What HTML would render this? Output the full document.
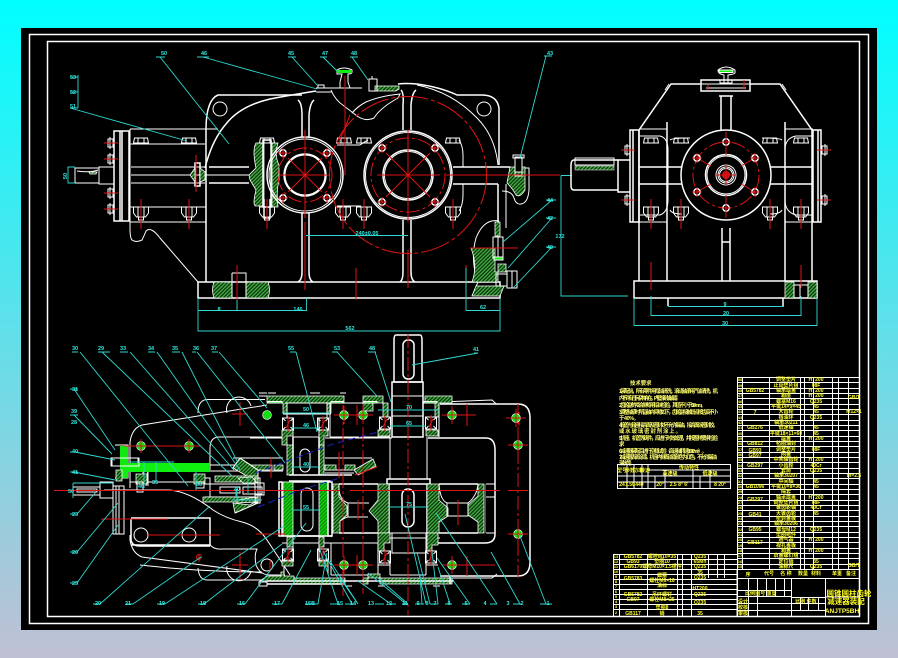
<!DOCTYPE html>
<html><head><meta charset="utf-8"><title>减速器装配图</title>
<style>
html,body{margin:0;padding:0;width:898px;height:658px;overflow:hidden;background:linear-gradient(180deg,#00ffff 0%,#c0c0d4 100%)}
svg{position:absolute;left:0;top:0;display:block}
text{font-family:"Liberation Sans","Noto Sans CJK SC",sans-serif}
.w{stroke:#fff;fill:none;stroke-width:1}
.t{stroke:#fff;fill:none;stroke-width:1.5}
.c{stroke:#2fd8d0;fill:none;stroke-width:.9}
.r{stroke:#e01414;fill:none;stroke-width:1}
.d{stroke:#e01414;fill:none;stroke-width:1;stroke-dasharray:14 3 3 3}
.h{fill:url(#hatch);stroke:#fff;stroke-width:.8}
.b{fill:url(#hatch2);stroke:#fff;stroke-width:.8}
.l text{fill:#2fe8e0;font-size:5.5px;font-weight:bold;text-anchor:middle}
.w2{stroke:#fff;fill:none;stroke-width:1}
.q text{fill:#ffff30;font-size:5px;font-weight:bold;text-anchor:middle}
.n text{fill:#ffff30;font-size:4px;font-weight:bold;text-anchor:middle}
.p text{fill:#ffff70;font-size:5.4px;font-weight:bold}
</style></head><body>
<svg width="898" height="658" viewBox="0 0 898 658" xmlns="http://www.w3.org/2000/svg">
<defs>
<pattern id="hatch" width="2.6" height="2.6" patternUnits="userSpaceOnUse" patternTransform="rotate(45)"><rect width="2.6" height="2.6" fill="#0c3a0c"/><rect width="1.2" height="2.6" fill="#48b048"/></pattern>
<pattern id="hatch2" width="2.6" height="2.6" patternUnits="userSpaceOnUse" patternTransform="rotate(45)"><rect width="2.6" height="2.6" fill="#10d010"/><rect width="1" height="2.6" fill="#0c7a0c"/></pattern>
<g id="nut"><path class="w" d="M-7.500 0h15v6l-3 4h-9l-3-4zM-3 0v10M3 0v10M-2.500 10v3h5v-3"/><path class="r" d="M0 -8v30"/></g>
<g id="nutT"><path class="w" d="M-7.500 5h15l-1-5h-13zM-3 0v5M3 0v5"/></g>
<g id="side"><path class="w" d="M-5 -4h5v8h-5zM-3 -6v12"/><path class="r" d="M-9 0h14"/></g>
<g id="gdot"><circle r="4.400" fill="#10e010" stroke="#fff" stroke-width=".7"/><path class="r" d="M-10 0h20M0 -9v18"/></g>
<g id="hole"><circle r="3.200" class="t" fill="none"/><path class="r" d="M-5 0h10M0 -5v10"/></g>
<g id="brg"><rect x="-5.500" y="-6" width="11" height="12" fill="#000" class="w"/><path d="M-5.500 -6l3 3M5.500 -6l-3 3M-5.500 6l3-3M5.500 6l-3-3" class="w"/><path class="r" stroke-width="2" d="M-2 4L2 -4M0 -8v16"/></g>
</defs>

<rect x="21" y="28" width="856" height="602" fill="#000"/>
<rect x="29.500" y="34.500" width="839" height="589" class="t" fill="none"/>
<rect x="47.500" y="41.500" width="812" height="575" class="t" fill="none"/>

<!-- ========== FRONT VIEW ========== -->
<g class="w" shape-rendering="geometricPrecision">
<path class="t" d="M198 282H500V298H198z"/>
<path d="M198 282L160 238Q151 226 146 231Q144 236 142 240Q136 243 132 240Q130 238 130 228V222H206"/>
<path class="t" d="M206 282V130Q206 100 218 95H302"/>
<path class="t" d="M205 168Q212 140 226 124Q240 106 270 99Q285 96 316 91"/>
<circle cx="220" cy="109" r="7"/>
<path d="M130 129H218M130 144H205M130 207H206M130 222H205M130 129V222"/>
<path class="t" d="M114 131H129V221H114zM120 131V221M122 131V221"/>
<path d="M131 167H205M131 183H205M131 175H260"/>
<path d="M99 167H114V184H99zM75 168H99V183H75z"/>
<path d="M77 171Q90 173 98 170"/>
<path class="h" d="M89 172H97L96 174H90z"/>
<path class="t" d="M195 163H200V186H195z"/>
<path class="h" d="M195 168L190 175L195 182zM200 168L205 172V180L200 182z"/>
<path class="h" d="M256 143H264V206H256Q252 206 256 190L250 180L249 175L256 168Q252 150 256 143z"/>
<path class="h" d="M272 143H278Q274 155 279 165V180Q276 192 278 207H272z"/>
<path class="t" d="M263 140V207H271V140zM264 199V218H270V199"/>
<path class="t" d="M209 167H249M209 183H249"/>
<path class="t" d="M298 100Q302 103 302 115V137M314 100Q310 103 309 115V137M302 213V272Q302 280 298 282M309 213V272Q309 280 313 282"/>
<path class="t" d="M401 90Q404 93 403 105V130M416 90Q412 93 411 105V130M403 220V272Q403 280 400 282M411 220V272Q411 280 415 282"/>
<path d="M337 145H360Q366 141 368 140M337 206H361"/>
<path d="M459 140Q463 146 463 155V167M459 211Q463 205 463 195V184"/>
<path class="t" d="M398 84Q405 83 417 84Q440 87 457 95H482Q497 95 499 108V165"/>
<path d="M417 85Q452 92 477 118Q495 136 498 165"/>
<circle cx="484" cy="109" r="7" class="w"/>
<path d="M331 88H362M331 90Q335 100 344 106Q352 112 357 116Q366 122 374 118Q380 108 398 98L400 94Q380 96 366 102Q358 106 352 113"/>
<path d="M316 88H332M316 92H332"/>
<path class="h" d="M375 86H399V89L396 91H375z"/>
<path d="M337 70Q344 66 352 70V72Q352 74 348 74V82L350 88H340V82L342 74H337z"/>
<rect x="338" y="70" width="14" height="3" fill="#10f010" stroke="none"/>
<path d="M369 79H377V91H369zM372 76V79"/>
<path d="M318 85H324V88H318z"/>
<path class="t" d="M453 167H510M453 184H498M498 184V222"/>
<path d="M506 228V184M510 168H529V190Q528 203 521 204Q516 205 514 198Q512 191 502 191"/>
<path class="h" d="M510 167H525V190Q520 198 516 195Q513 189 507 183Z"/>
<rect x="515" y="157" width="7" height="15" fill="#000"/>
<path d="M515 157H522V176H515zM513 155H524V158H513z"/>
<path d="M499 221Q484 218 476 238Q470 260 478 282L472 296"/>
<path class="h" d="M471 248H495V272H498V282H472Q478 266 471 248z"/>
<path class="h" d="M472 296L476 286H504L500 296z"/>
<path class="h" d="M495 222H500V236H495zM498 264H506V272H498z"/>
<path d="M493 237H503V258H493zM498 237V258"/>
<rect x="494" y="257" width="9" height="3" fill="#10f010"/>
<path d="M496 274H507V286H496zM507 271H517V288H507zM512 271V288"/>
</g>
<path class="h" d="M214 282H232V298H214Q211 290 214 282zM246 282H268Q271 290 268 298H246z"/>
<path class="w" d="M232 273H246V298M232 273V298M226 282H232M246 282H252"/>
<g class="w" shape-rendering="geometricPrecision">
<circle cx="305" cy="175" r="38" fill="#000" class="t"/><circle cx="305" cy="175" r="36" class="w"/>
<circle cx="305" cy="175" r="21" class="t"/><circle cx="305" cy="175" r="20" class="w"/>
<circle cx="408" cy="175" r="44" fill="#000" class="t"/><circle cx="408" cy="175" r="42.500" class="w"/>
<circle cx="408" cy="175" r="25" class="t"/><circle cx="408" cy="175" r="23.500" class="w"/>
</g>
<use href="#nut" x="141" y="207"/><use href="#nut" x="189" y="207"/><use href="#nut" x="267" y="207"/>
<use href="#nut" x="343" y="207"/><use href="#nut" x="364" y="207"/><use href="#nut" x="453" y="207"/>
<use href="#nutT" x="141" y="138"/><use href="#nutT" x="189" y="138"/><use href="#nutT" x="267" y="138"/>
<use href="#nutT" x="344" y="138"/><use href="#nutT" x="364" y="138"/><use href="#nutT" x="453" y="138"/>
<use href="#side" x="113" y="143"/><use href="#side" x="113" y="159"/><use href="#side" x="113" y="193"/><use href="#side" x="113" y="209"/>
<g shape-rendering="geometricPrecision">
<circle cx="408" cy="175" r="78.500" class="r" stroke-dasharray="30 3 4 3"/>
<circle cx="305" cy="175" r="27" class="d"/>
<circle cx="408" cy="175" r="37" class="d"/>
<path class="r" d="M280 175H330M305 150V200M288 158L322 192M288 192L322 158"/>
<path class="r" d="M377 175H440M408 144V206M386 153L430 197M386 197L430 153"/>
<path class="r" d="M305 130V218M408 130V222M305 222V290M408 250V288M356 268V300M466 265V300M237 265V310"/>
<path class="r" d="M446 175H560M510 175H530"/>
<path class="r" d="M196 155V192M345 76V175M350 115L338 145"/>
<path class="r" d="M470 248H518M486 248H516"/>
</g>
<use href="#hole" x="283" y="153"/><use href="#hole" x="327" y="153"/><use href="#hole" x="283" y="198"/><use href="#hole" x="327" y="198"/>
<use href="#hole" x="382" y="148"/><use href="#hole" x="435" y="148"/><use href="#hole" x="382" y="202"/><use href="#hole" x="435" y="202"/>
<path class="c" d="M198 298V331H500V298M198 310.500H306.500V298M237 310.500V300M466 310.500H500M466 310.500V268"/>
<path class="c" d="M306 235.500H408"/>
<path class="c" d="M75 167H68V183H75"/>
<path class="c" d="M561 175.500V296H628M561 175.500H572"/>
<g class="l">
<text x="65" y="178" transform="rotate(-90 65 176)">50</text>
<text x="219" y="311">8</text><text x="298" y="311">146</text><text x="483" y="309">62</text><text x="350" y="330">562</text>
<text x="367" y="235">240±0.05</text><text x="560" y="238">172</text>
</g>
<path class="c" d="M160 57L229 144M203 57L317 89M292 57L318 86M323 57L338 72M352 57L368 80M546 56L520 158M552 200L503 242M552 218L508 268M552 247L513 288M156 57H165M197 57H209M288 57H296M320 57H327M350 57H358M544 56H552M546 200H556M546 218H556M546 247H556M78 108V75M70 108L187 141M70 77H78M70 92H78M70 108H78"/>
<g class="l">
<text x="164" y="55">50</text><text x="204" y="55">46</text><text x="291" y="55">45</text><text x="325" y="55">47</text><text x="354" y="55">48</text><text x="550" y="55">43</text><text x="550" y="202">44</text><text x="550" y="220">42</text><text x="550" y="249">40</text>
<text x="73" y="79">53</text><text x="73" y="94">52</text><text x="73" y="108">51</text>
</g>

<!-- ========== SIDE VIEW ========== -->
<g class="w" shape-rendering="geometricPrecision">
<path class="t" d="M634 281H817V298H634zM668 298V306M783 298V306M668 298H783"/>
<path class="t" d="M639 281V130M812 281V130M667 281V122M785 281V122"/>
<path class="t" d="M639 130L671 84H700M812 130L780 84H750"/>
<path d="M671 84H780M665 90L669 84M786 90L782 84"/>
<path class="t" d="M701 80H750V91H701zM704 91H747"/>
<path d="M704 80H748M706 88H746"/>
<path d="M718 70Q726 64 735 70V73Q735 74 728 75V83H724V75Q718 74 718 70z"/>
<rect x="719" y="70" width="14" height="2.500" fill="#10f010"/>
<path d="M720 83H732V80H720z"/>
<path class="t" d="M721 96V131M731 96V131M719 96H733M722 228V281M730 228V281M722 242H730"/>
<path d="M639 129H667L667 125M785 129H813M639 222H667M785 222H813"/>
<path class="t" d="M630 130H639V222H630zM633 130V222"/>
<path class="t" d="M813 130H821V222H813zM818 130V222"/>
<path d="M640 136H660Q668 138 668 150V200Q668 212 660 215H640M812 136H796Q785 138 785 150V200Q785 212 796 215H812"/>
<path d="M670 140Q672 138 690 138M782 140Q780 138 762 138M670 210Q672 214 682 214M782 210Q780 214 770 214"/>
<path class="t" d="M639 167H682M639 184H682M770 167H812M770 184H812"/>
<path class="t" d="M630 160H618V192H630"/>
<path class="t" d="M618 160H574Q571 160 571 165V186Q571 190 574 190H618"/>
<path d="M575 158H614V165H575zM618 160V192"/>
</g>
<rect x="575" y="166" width="39" height="4" fill="url(#hatch)" stroke="#fff" stroke-width=".5"/>
<g shape-rendering="geometricPrecision">
<circle cx="726" cy="175" r="45" fill="#000" class="t" stroke-width="2"/>
<circle cx="726" cy="175" r="20.500" class="t"/><circle cx="726" cy="175" r="19" class="w"/>
<circle cx="726" cy="175" r="10" class="w"/><circle cx="726" cy="175" r="8" class="w"/><circle cx="726" cy="175" r="6.500" class="w"/>
<circle cx="726" cy="175" r="33" class="d"/>
<circle cx="726" cy="175" r="3.500" fill="#c01010" stroke="#e01414"/>
<path class="r" d="M716 175H736M726 165V185M726 132V155M726 195V218M697 158L711 166M755 158L741 166M697 192L711 184M755 192L741 184"/>
</g>
<use href="#hole" x="726" y="142"/><use href="#hole" x="726" y="208"/><use href="#hole" x="697" y="158"/><use href="#hole" x="755" y="158"/><use href="#hole" x="697" y="192"/><use href="#hole" x="755" y="192"/>
<use href="#nut" x="651" y="207"/><use href="#nut" x="681" y="207"/><use href="#nut" x="770" y="207"/><use href="#nut" x="801" y="207"/>
<use href="#nutT" x="651" y="138"/><use href="#nutT" x="681" y="138"/><use href="#nutT" x="770" y="138"/><use href="#nutT" x="801" y="138"/>
<use href="#side" x="630" y="150"/><use href="#side" x="630" y="200"/>
<g transform="matrix(-1 0 0 1 822 0)"><use href="#side" x="0" y="150"/><use href="#side" x="0" y="200"/></g>
<path class="h" d="M785 282H794V298H785zM808 282H817V298H808z"/>
<path class="w" d="M794 285H808V298M794 285V298M800 285V298"/>
<path class="r" d="M651 262V290M801 265V288M708 85V90M744 80V90"/>
<path class="c" d="M668 306.500H784M651 296V315.500H801V296M634 298V325.500H817V298"/>
<g class="l"><text x="725" y="306">9</text><text x="726" y="315">20</text><text x="725" y="325">30</text></g>

<!-- ========== SECTION VIEW ========== -->
<g class="w" shape-rendering="geometricPrecision">
<!-- outer body -->
<path d="M130 488V442Q132 428 142 425L267 405"/>
<path d="M198 413Q198 400 207 399.500H265M227 413A12 12 0 0 1 251 406"/>
<path d="M130 535V540Q132 553 142 557L262 573"/>
<path d="M198 568Q199 580 207 580H267M227 566A12 12 0 0 0 251 571"/>
<path class="t" d="M440 404H518Q530 404 530 418V562Q530 576 518 576H440"/>
<path d="M440 402L492 400Q496 404 497 404M440 578H492L497 574"/>
<path d="M210 448Q210 438 218 437H287M210 448V470"/>
<path class="t" d="M428 438H486Q495 438 495 450V534Q495 543 485 543H428"/>
<path d="M104 490H170Q190 492 213 510Q225 518 242 522Q258 526 267 540Q275 552 290 575"/>
<path class="t" d="M131 518H210V545H131M131 519V540Q132 546 140 546H210"/>
<path d="M210 545Q215 550 222 549H257Q254 555 256 565Q260 575 270 575H285"/>
<circle cx="141" cy="535" r="7"/><circle cx="189" cy="535" r="7"/>
<circle cx="267" cy="565" r="6"/>
<path d="M140 565Q200 572 262 572"/>
<!-- input end -->
<path d="M113 486H124V534H113zM116 486V534M119 486V534"/>
<path d="M100 482H113V498H100zM73 487H100V495H73zM77 489H97V492H77z"/>
<path d="M130 470H148V486M148 470L146 486M130 482H205M143 490V470M203 478H210V501H203"/>
<path d="M205 484H255M205 497H255M220 487H240V493H220zM243 487H262V494H243z"/>
<path d="M115 445H128V478H115"/>
<path d="M111 458H138V466H111z"/>
<!-- pinion stub lines -->
<path d="M210 465H250M233 458H283M210 471H283"/>
<path class="h" d="M250 465H272V470H250zM274 465H283V470H274z"/>
<!-- intermediate shaft: top flange -->
<path class="h" d="M267 396H344V403H331V413H327V403H287V413H283V403H267Z"/>
<rect x="268" y="401.500" width="14" height="1.500" fill="#10f010"/><rect x="331" y="401.500" width="12" height="1.500" fill="#10f010"/>
<path d="M285 403H330M287 403V418M327 403V418M283 414H331"/>
<path d="M259 393H267M268 393H276M310 393H320M340 393H346M259 396H267"/>
<path d="M293 418V445M319 418V445M293 437H319M250 438H287M325 438H392"/>
<path class="h" d="M282 430H293V436H287V445H282zM319 430H328V436H324V445H319z"/>
<path class="h" d="M287 445H293V475H287zM319 445H324V475H319z"/>
<rect x="300" y="449" width="10" height="23" rx="5"/>
<path class="t" d="M289 475H352M289 481H331M293 437V475M319 437V475"/>
<!-- intermediate gear -->
<rect x="283" y="482" width="10" height="54" class="b"/>
<rect x="319" y="482" width="9" height="54" class="b"/>
<path class="t" d="M279 482H282V536H279zM328 482H332V536H328zM293 482H319M293 536H319"/>
<rect x="301" y="488" width="12" height="43" rx="6"/>
<path class="t" d="M282 536H332"/>
<path d="M293 536V560M319 536V560M282 543H331"/>
<path class="h" d="M287 537H293V547H287zM319 537H324V547H319z"/>
<path class="h" d="M282 560H293V566H282zM319 560H328V566H319z"/>
<path d="M284 566V575H270M328 566V575"/>
<!-- gear stub right of intermediate -->
<path d="M325 458H372M325 470H352M325 473H354"/>
<path class="h" d="M325 465H336V470H325zM345 465H355V470H345zM354 470L373 459L376 466L358 475z"/>
<path stroke="#e01414" fill="none" d="M355 475L377 467"/>
<!-- output shaft -->
<path class="t" d="M396 335Q394 335 394 340V382H422V340Q422 335 420 335z"/>
<rect x="403" y="340" width="11" height="39" rx="5" class="t"/>
<path class="t" d="M392 382H423V437H392z"/>
<path d="M392 396H423M392 416H423"/>
<path class="h" d="M363 396H383V403H388V417H383V403H373V411H363zM425 396H452V403H439V417H435V403H425z"/>
<rect x="364" y="401.500" width="13" height="1.500" fill="#10f010"/><rect x="424" y="401.500" width="13" height="1.500" fill="#10f010"/>
<path d="M330 403H363M439 404V437M330 403V437"/>
<path class="h" d="M378 430H390V436H378zM426 430H438V436H426z"/>
<path d="M390 437V479M427 437V479M330 437H390"/>
<path class="t" d="M387 479H430V484H387zM389 484V533M427 484V533"/>
<rect x="402" y="489" width="12" height="38" rx="6" class="t"/>
<path class="h" d="M378 484H389V533H378V521L369 511L378 500z"/>
<path class="h" d="M333 484H339V497L347 506V515L340 521V533H333z"/>
<path class="h" d="M427 484H439V500L448 508V516L439 522V533H427z"/>
<path class="h" d="M478 484H484V533H478V522L468 515V505L478 496z"/>
<path class="t" d="M339 484H378M339 533H378M439 484H478M439 533H478"/>
<path d="M339 484Q338 500 348 503H369M348 503V517H368M340 521Q346 517 348 517"/>
<path d="M447 503H468V516H447zM439 484Q440 500 447 503M478 484Q477 496 468 503"/>
<path class="r" stroke-width="1.500" d="M485.500 484V533"/>
<path d="M486 484H495M486 497H495M486 533H495"/>
<path d="M392 533V553H426V533M389 533H427M385 538H430M378 538H392M426 538H440"/>
<path d="M331 543H378V575M331 543V575M331 575H378"/>
<path class="h" d="M378 533H390V543H384V551H378zM427 533H438V545H432V551H427z"/>
<path d="M378 565H390M426 565H438M390 553V575M426 553V575M390 575H426"/>
<path class="h" d="M368 574H380V578H363V584H368zM380 578H452V584H380z"/>
<path class="h" d="M260 581H294V576H284V572H281V576H267zM294 578H345V584H294z"/>
<path class="t" d="M267 581H345M267 584H345M330 581H454M450 576V584"/>
<path d="M259 582H267V586H259zM324 584H329M280 584H284M345 586H352M378 586H385M433 586H440"/>
<!-- bevel gear -->
<path class="h" d="M233 468L240 458L258 470V478L250 478zM233 503L250 505L258 500V503L235 513z"/>
<path class="h" d="M215 476H258V482H215zM203 497H258V502H203z"/>
<path class="h" d="M238 478L252 477L257 483H243zM237 500L256 497V502L237 503z"/>
<path d="M255 478V503H260V478zM255 483H264V495H255M240 458L258 470V503L235 513"/>
<path d="M232 469L240 458"/>
</g>
<g shape-rendering="geometricPrecision">
<path d="M120 463H210V472H128V478H122Z" fill="#10f010"/>
<rect x="120" y="446" width="8" height="24" fill="#10e810"/>
<path class="h" d="M116 470H122V481H116z"/>
<path class="h" d="M136 474H147V484H136zM194 474H205V484H194z"/>
<path class="w" d="M137 482H143V492H137zM196 482H204V488H196z"/>
<rect x="112" y="458" width="27" height="8" fill="none" stroke="#fff"/>
<circle cx="141" cy="446" r="4.400" fill="#10e010" stroke="#fff" stroke-width=".6"/>
<circle cx="189" cy="446" r="4.400" fill="#10e010" stroke="#fff" stroke-width=".6"/>
<path class="r" d="M124 446H200M141 439V453M189 439V453"/>
<path class="r" d="M54 490.500H300M280 490.500H340M350 490.500H500"/>
<path class="r" d="M101 519H168M148 535H220"/>
<path class="d" d="M408 334V615"/>
<path class="d" d="M343 405V596"/>
<path class="d" d="M363 404V594"/>
<path class="d" d="M518 404V578"/>
<path class="r" d="M513 418H523M519 412V426M350 415H364M357 405V425M350 565H364M357 555V575"/>
<path class="r" d="M240 402V426M240 552V580M232 565H248M232 414H248M467 404V426M452 415H476M455 565H495M467 556V576M256 534H285M270 560V572"/>
<path class="r" d="M199 554V562M339 452V478M271 458V478"/>
<path class="r" d="M358 500V520M458 500V525"/>
<path d="M255 473L333 444L378 432" stroke="#2020c0" fill="none" stroke-dasharray="7 4"/>
<path d="M258 507L300 490L340 478" stroke="#2020c0" fill="none" stroke-dasharray="7 4"/>
<circle cx="199" cy="557" r="2.500" class="r"/>
<circle cx="267" cy="415" r="4.400" fill="#10e010" stroke="#fff" stroke-width=".6"/>
</g>
<use href="#gdot" x="344" y="415"/><use href="#gdot" x="363" y="415"/><use href="#gdot" x="452" y="415"/>
<use href="#gdot" x="344" y="565"/><use href="#gdot" x="363" y="565"/><use href="#gdot" x="452" y="565"/>
<use href="#gdot" x="518" y="445"/><use href="#gdot" x="518" y="534"/><use href="#gdot" x="516" y="418"/>
<path class="r" d="M508 490.500H528"/>
<use href="#brg" x="288" y="424"/><use href="#brg" x="323" y="424"/><use href="#brg" x="385" y="423"/><use href="#brg" x="431" y="423"/>
<use href="#brg" x="288" y="555"/><use href="#brg" x="323" y="555"/><use href="#brg" x="385" y="557"/><use href="#brg" x="431" y="557"/>
<path class="c" d="M282 413H330M292 428H319M292 467H319M292 510H319M232 500H262M378 410H439M390 426H426M389 507H427"/>
<path class="c" d="M144 462V488M156 462V482M196 471V490M236 489V498M174 462H130M237 489V500M248 493V478"/>
<path class="c" d="M73 483V498M73 483H114"/>
<g class="l">
<text x="306" y="411">50</text><text x="306" y="427">46</text><text x="306" y="466">40</text><text x="306" y="509">55</text>
<text x="409" y="409">70</text><text x="409" y="425">65</text><text x="409" y="506">75</text>
<text x="141" y="488">40</text><text x="155" y="484">35</text><text x="199" y="486">30</text><text x="237" y="491">40</text>
<text x="71" y="493">50</text>
</g>
<path class="c" d="M80 352L188 486M102 352L232 476M130 352L234 470M157 352L240 470M182 352L238 463M197 352L285 463M219 352L267 408M296 352L317 432M337 352L377 396M375 352L391 402M412 365L478 353M74 389L115 450M74 415L112 454M75 452L115 460M74 472L115 480"/>
<path class="c" d="M78 513L96 492M77 552L118 503M77 583L118 525M100 604L210 506M133 604L201 557M165 604L284 526M204 604L282 544M245 604L306 523M282 604L311 550M318 604L327 553M338 604L320 550M352 604L323 551M358 604L330 561M358 604L340 578M391 604L358 581M406 604L368 573M408 604L378 578M422 604L420 575M426 604L405 514M430 604L417 552M438 604L432 552M450 604L438 567M470 604L437 558M497 604L436 513M520 604L491 552M546 604L520 536"/>
<g class="c"><path d="M72 352H78M110 352H98M120 352H128M148 352H155M172 352H180M192 352H196M212 352H218M290 352H296M332 352H338M368 352H376M474 353H478M70 389H78M70 415H78M70 452H78M70 472H78M70 514H78M70 552H78M70 583H78M93 604H100M126 604H133M157 604H165M198 604H205M237 604H245M272 604H282M305 604H318M330 604H340M345 604H356M375 604H384M390 604H396M402 604H408M415 604H424M430 604H438M445 604H452M462 604H470M490 604H497M513 604H522M540 604H552"/></g>
<g class="l">
<text x="75" y="350">30</text><text x="101" y="350">29</text><text x="123" y="350">33</text><text x="151" y="350">34</text><text x="175" y="350">35</text><text x="196" y="350">36</text><text x="214" y="350">37</text>
<text x="291" y="350">55</text><text x="337" y="350">53</text><text x="372" y="350">48</text><text x="476" y="351">41</text>
<text x="75" y="391">31</text><text x="74" y="413">39</text><text x="74" y="424">28</text><text x="75" y="453">40</text><text x="75" y="474">41</text>
<text x="75" y="516">23</text><text x="75" y="554">26</text><text x="75" y="585">25</text>
<text x="98" y="605">20</text><text x="128" y="605">21</text><text x="162" y="605">19</text><text x="203" y="605">18</text><text x="242" y="605">16</text><text x="277" y="605">17</text><text x="310" y="605">15B</text>
<text x="340" y="605">15</text><text x="353" y="605">14</text><text x="371" y="605">13</text><text x="389" y="605">12</text><text x="405" y="605">11</text><text x="418" y="605">9</text><text x="427" y="605">8</text><text x="435" y="605">7</text><text x="449" y="605">6</text><text x="466" y="605">5</text><text x="485" y="605">4</text><text x="508" y="605">3</text><text x="522" y="605">2</text><text x="548" y="605">1</text>
</g>

<!-- ========== TECH TEXT ========== -->
<g class="p">
<text x="630" y="385" font-size="6">技术要求</text>
<text x="619" y="393" textLength="99">1.装配前，所有零件用煤油清洗，滚动轴承用汽油清洗，机</text>
<text x="619" y="400" textLength="62">内不许有任何杂物存在，内壁涂耐油油漆。</text>
<text x="619" y="407" textLength="87">2.齿轮副的啮合侧隙用铅丝检验，其值不小于0.14mm。</text>
<text x="619" y="414" textLength="99">3.调整轴承时所留轴向间隙如下，齿轮副接触斑点按齿高不小</text>
<text x="619" y="420" textLength="20">于40%。</text>
<text x="619" y="427" textLength="99">4.箱盖与箱座接合面及密封处不允许漏油，接合面涂密封胶，</text>
<text x="619" y="433" textLength="62">或水玻璃密封剂涂上。</text>
<text x="619" y="440" textLength="99">5.机座、机盖等铸件，应进行时效处理，并按图样要求检验</text>
<text x="619" y="446" textLength="6">求。</text>
<text x="619" y="453" textLength="88">6.减速器装配后进行空载试验（高速轴转速1000r/min）。</text>
<text x="619" y="459" textLength="98">7.减速器表面涂漆，机座内侧面油漆颜色为红色，不允许漏油</text>
<text x="619" y="465" textLength="16">漏水等。</text>
</g>
<path class="w2" d="M617.500 464.500H730.500V488.500H617.500zM617.500 476H730.500M627 464.500V488M634 464.500V488M642 464.500V488M648 464.500V488M648 470H730M665 470V488M693 470V488M710 470V488M655 476V488M700 476V488M617 482H730"/>
<g class="q"><text x="622" y="472">型号</text><text x="630" y="472">参数</text><text x="638" y="472">功率</text><text x="645" y="472">转速</text><text x="689" y="469">传动特性</text><text x="670" y="475">高速级</text><text x="710" y="475">低速级</text>
<text x="622" y="486">24</text><text x="630" y="486">1.50</text><text x="638" y="486">1440</text><text x="660" y="486">20°</text><text x="679" y="486">2.5 8° 6'</text><text x="720" y="486">8 20°</text></g>

<!-- ========== PARTS TABLE ========== -->
<path class="w2" shape-rendering="crispEdges" d="M737.500 377V578M742.500 377V569M769.500 377V569M800.500 377V569M804.500 377V569M813.500 377V569M832.500 377V569M838.500 377V569M848.500 377V569M859.500 377V616
M737 377.500h122M737 382.500h122M737 388.500h122M737 393.500h122M737 398.500h122M737 404.500h122M737 409.500h122M737 414.500h122M737 420.500h122M737 425.500h122M737 430.500h122M737 436.500h122M737 441.500h122M737 446.500h122M737 452.500h122M737 457.500h122M737 462.500h122M737 468.500h122M737 473.500h122M737 478.500h122M737 484.500h122M737 489.500h122M737 494.500h122M737 500.500h122M737 505.500h122M737 510.500h122M737 516.500h122M737 521.500h122M737 526.500h122M737 532.500h122M737 537.500h122M737 542.500h122M737 548.500h122M737 553.500h122M737 558.500h122M737 564.500h122M737 569.500h122M737 578.500h122
M613.500 554.500H737M613.500 559.500H737M613.500 564.500H737M613.500 569.500H737M613.500 574.500H737M613.500 579.500H737M613.500 584.500H737M613.500 589.500H737M613.500 594.500H737M613.500 599.500H737M613.500 604.500H737M613.500 609.500H737M613.500 616.500H737
M613.500 554V616M619.500 554V616M647.500 554V616M677.500 554V616M682.500 554V616M691.500 554V616M708.500 554V578M717.500 554V578M724.500 554V578M737.500 554V616
M737 569V616M791.500 578V616M825.500 578V616M737 590.500h54M737 596.500h54M737 603.500h54M737 610.500h54M748.500 578V616M757.500 578V616M766.500 578V596M775.500 578V596M784.500 578V596M791 597.500h34M791 603.500h34M791 610.500h34M800.500 597V610M808.500 597V610M818.500 597V610M825 597h34"/>
<g class="n">
<text x="740" y="381">50</text><text x="740" y="387">49</text><text x="740" y="392">48</text><text x="740" y="397">47</text><text x="740" y="403">46</text><text x="740" y="408">45</text><text x="740" y="413">44</text><text x="740" y="419">43</text><text x="740" y="424">42</text><text x="740" y="429">41</text><text x="740" y="435">40</text><text x="740" y="440">39</text><text x="740" y="445">38</text><text x="740" y="451">37</text><text x="740" y="456">36</text><text x="740" y="461">35</text><text x="740" y="467">34</text><text x="740" y="472">33</text><text x="740" y="477">32</text><text x="740" y="483">31</text><text x="740" y="488">30</text><text x="740" y="493">29</text><text x="740" y="499">28</text><text x="740" y="504">27</text><text x="740" y="509">26</text><text x="740" y="515">25</text><text x="740" y="520">24</text><text x="740" y="525">23</text><text x="740" y="531">22</text><text x="740" y="536">21</text><text x="740" y="541">20</text><text x="740" y="547">19</text><text x="740" y="552">18</text><text x="740" y="557">17</text><text x="740" y="563">16</text><text x="740" y="568">15</text>
<text x="616" y="558">13</text><text x="616" y="563">12</text><text x="616" y="568">11</text><text x="616" y="573">10</text><text x="616" y="578">9</text><text x="616" y="583">8</text><text x="616" y="588">7</text><text x="616" y="593">6</text><text x="616" y="598">5</text><text x="616" y="603">4</text><text x="616" y="608">3</text><text x="616" y="614">2</text>
</g>
<g class="q">
<text x="786" y="381">调整垫片</text><text x="786" y="387">止动垫片组</text><text x="786" y="392">轴承端盖</text><text x="786" y="397">箱座</text><text x="786" y="403">螺塞M16</text><text x="786" y="408">平键14×9×45</text><text x="786" y="413">大齿轮</text><text x="786" y="419">挡油环</text><text x="786" y="424">轴承30211</text><text x="786" y="429">低速轴</text><text x="786" y="435">平键18×11×60</text><text x="786" y="440">端盖</text><text x="786" y="445">毡圈油封</text><text x="786" y="451">调整垫片</text><text x="786" y="456">闷盖</text><text x="786" y="461">中间轴齿轮</text><text x="786" y="467">小齿轮</text><text x="786" y="472">套筒</text><text x="786" y="477">轴承30207</text><text x="786" y="483">中间轴</text><text x="786" y="488">平键10×8×36</text><text x="786" y="493">隔套</text><text x="786" y="499">轴承端盖</text><text x="786" y="504">调整垫片组</text><text x="786" y="509">锥齿轮轴</text><text x="786" y="515">大锥齿轮</text><text x="786" y="520">密封盖板</text><text x="786" y="525">轴承30206</text><text x="786" y="531">螺母M12</text><text x="786" y="536">垫圈组件</text><text x="786" y="541">通气器</text><text x="786" y="547">视孔盖板</text><text x="786" y="552">箱盖</text><text x="786" y="557">启盖螺钉组</text><text x="786" y="563">定位销</text><text x="786" y="568">油标尺</text>
<text x="816" y="381">HT200</text><text x="816" y="387">08F</text><text x="816" y="392">HT200</text><text x="816" y="397">HT200</text><text x="816" y="403">Q235</text><text x="816" y="408">45</text><text x="816" y="413">45</text><text x="816" y="419">Q235</text><text x="816" y="429">45</text><text x="816" y="435">45</text><text x="816" y="440">HT200</text><text x="816" y="451">08F</text><text x="816" y="461">HT200</text><text x="816" y="467">40Cr</text><text x="816" y="472">Q235</text><text x="816" y="483">45</text><text x="816" y="488">45</text><text x="816" y="499">HT200</text><text x="816" y="504">08F</text><text x="816" y="509">40Cr</text><text x="816" y="515">45</text><text x="816" y="531">Q235</text><text x="816" y="541">HT200</text><text x="816" y="552">HT200</text><text x="816" y="563">35</text><text x="816" y="568">Q235</text>
<text x="755" y="392">GB5782</text><text x="755" y="414">7</text><text x="755" y="429">GB276</text><text x="755" y="445">GB812</text><text x="755" y="452">GB93</text><text x="755" y="457">GB97</text><text x="755" y="467">GB297</text><text x="755" y="488">GB1096</text><text x="755" y="501">GB297</text><text x="755" y="516">GB41</text><text x="755" y="531">GB95</text><text x="755" y="544">GB117</text>
<text x="854" y="399">GB/T</text><text x="854" y="413">M12×1</text><text x="854" y="477">m=2.5</text><text x="854" y="567">GB/T</text>
<text x="748" y="576" font-size="6">序</text><text x="769" y="575" font-size="6">代号</text><text x="786" y="575" font-size="6">名 称</text><text x="803" y="575" font-size="6">数量</text><text x="816" y="575" font-size="6">材料</text><text x="837" y="575" font-size="6">单重</text><text x="851" y="575" font-size="6">备注</text>
<text x="633" y="558">GB5782</text><text x="633" y="563">GB93</text><text x="633" y="568">GB6170</text><text x="633" y="580">GB5783</text><text x="633" y="596">GB5782</text><text x="633" y="601">GB97</text><text x="633" y="615">GB117</text>
<text x="662" y="558">螺栓M10×35</text><text x="662" y="563">垫圈10</text><text x="662" y="568">螺母M10×1.5组件</text><text x="662" y="577">螺塞</text><text x="662" y="582">螺栓M6×16</text><text x="662" y="587">油标</text><text x="662" y="596">吊环螺钉</text><text x="662" y="601">螺栓M8×25</text><text x="662" y="609">垫圈8</text><text x="662" y="615">销</text>
<text x="700" y="558">Q235</text><text x="700" y="563">65Mn</text><text x="700" y="568">Q235</text><text x="700" y="574">35</text><text x="700" y="579">Q235</text><text x="700" y="590">HT200</text><text x="700" y="596">Q235</text><text x="700" y="604">Q235</text><text x="700" y="615">35</text>
<text x="750" y="595">比例</text><text x="766" y="595">图号 重量</text><text x="806" y="603">比例 件数</text><text x="743" y="603">设计</text><text x="743" y="609">校核</text><text x="743" y="615">审核</text>
</g>
<g shape-rendering="geometricPrecision">
<text x="849" y="596" fill="#ffff20" font-size="7.500" font-weight="bold" text-anchor="middle" font-family="Liberation Sans, Noto Sans CJK SC, sans-serif">圆锥圆柱齿轮</text>
<text x="846" y="604" fill="#ffff20" font-size="7.500" font-weight="bold" text-anchor="middle" font-family="Liberation Sans, Noto Sans CJK SC, sans-serif">减速器装配</text>
<text x="842" y="613" fill="#ffff40" font-size="6.500" font-weight="bold" text-anchor="middle">ANJTP5BH</text>
</g>
</svg>
</body></html>
